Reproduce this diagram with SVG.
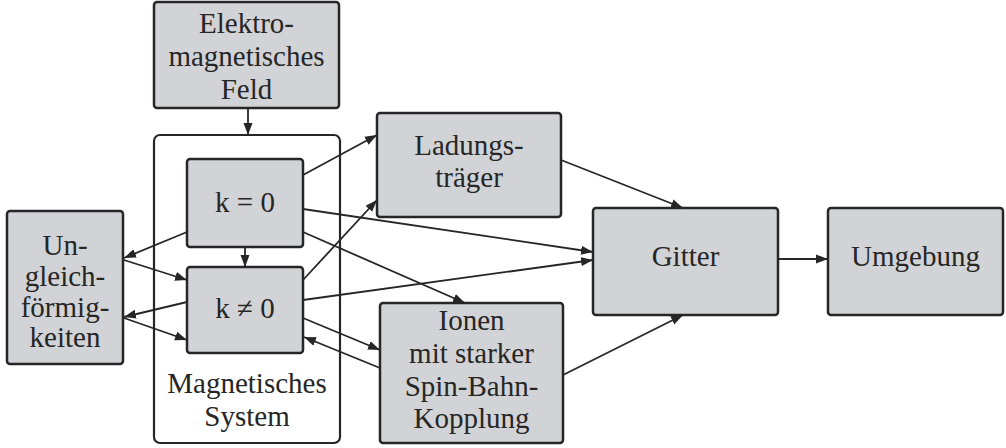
<svg xmlns="http://www.w3.org/2000/svg" width="1006" height="448" viewBox="0 0 1006 448" font-family="Liberation Serif, DejaVu Serif, serif">
<style>
.n{fill:#d2d3d7;stroke:#262626;stroke-width:2.5}
.c{fill:#fff;stroke:#262626;stroke-width:2.2}
text{font-size:29px;fill:#262626;text-anchor:middle}
.e{stroke:#262626;stroke-width:1.8;fill:none;marker-end:url(#a)}
</style>
<defs>
<marker id="a" viewBox="0 0 12 10" refX="12" refY="5" markerWidth="12" markerHeight="10" markerUnits="userSpaceOnUse" orient="auto">
<path d="M0,0.5 L12,5 L0,9.5 z" fill="#262626"/>
</marker>
</defs>
<g id="feld"><rect class="n" x="154" y="2" width="185" height="106" rx="3"/>
<text x="246.5" y="33">Elektro-</text><text x="246.5" y="66">magnetisches</text><text x="246.5" y="99">Feld</text></g>
<g id="system"><rect class="c" x="154" y="135" width="186" height="308" rx="6"/>
<text x="247" y="393">Magnetisches</text><text x="247" y="426">System</text></g>
<g id="k0"><rect class="n" x="187" y="159" width="116" height="88" rx="3"/><text x="245" y="212">k = 0</text></g>
<g id="kn0"><rect class="n" x="187" y="267" width="116" height="86" rx="3"/><text x="245" y="318">k ≠ 0</text></g>
<g id="ungleich"><rect class="n" x="7" y="211" width="116" height="153" rx="3"/>
<text x="65" y="255">Un-</text><text x="65" y="286">gleich-</text><text x="65" y="317">förmig-</text><text x="65" y="347">keiten</text></g>
<g id="ladung"><rect class="n" x="377" y="113" width="184" height="104" rx="3"/>
<text x="469" y="155">Ladungs-</text><text x="469" y="187">träger</text></g>
<g id="ionen"><rect class="n" x="380" y="303" width="183" height="140" rx="3"/>
<text x="471.5" y="330">Ionen</text><text x="471.5" y="363">mit starker</text><text x="471.5" y="396">Spin-Bahn-</text><text x="471.5" y="428">Kopplung</text></g>
<g id="gitter"><rect class="n" x="593" y="208" width="185" height="107" rx="3"/><text x="685.5" y="266">Gitter</text></g>
<g id="umgebung"><rect class="n" x="828" y="208" width="175" height="107" rx="3"/><text x="915.5" y="266">Umgebung</text></g>
<g id="connectors">
<line class="e" x1="248" y1="108" x2="248" y2="135"/>
<line class="e" x1="245" y1="247" x2="245" y2="267"/>
<line class="e" x1="187" y1="232" x2="124" y2="258"/>
<line class="e" x1="124" y1="260" x2="187" y2="280"/>
<line class="e" x1="187" y1="302" x2="124" y2="317"/>
<line class="e" x1="124" y1="318" x2="187" y2="340"/>
<line class="e" x1="303" y1="175" x2="377" y2="135"/>
<line class="e" x1="303" y1="209" x2="593" y2="252"/>
<line class="e" x1="303" y1="232" x2="465" y2="303"/>
<line class="e" x1="303" y1="280" x2="377" y2="200"/>
<line class="e" x1="303" y1="300" x2="593" y2="260"/>
<line class="e" x1="303" y1="318" x2="380" y2="350"/>
<line class="e" x1="380" y1="368" x2="304" y2="337"/>
<line class="e" x1="561" y1="160" x2="683" y2="208"/>
<line class="e" x1="563" y1="375" x2="683" y2="315"/>
<line class="e" x1="778" y1="259" x2="828" y2="259"/>
</g>
</svg>
